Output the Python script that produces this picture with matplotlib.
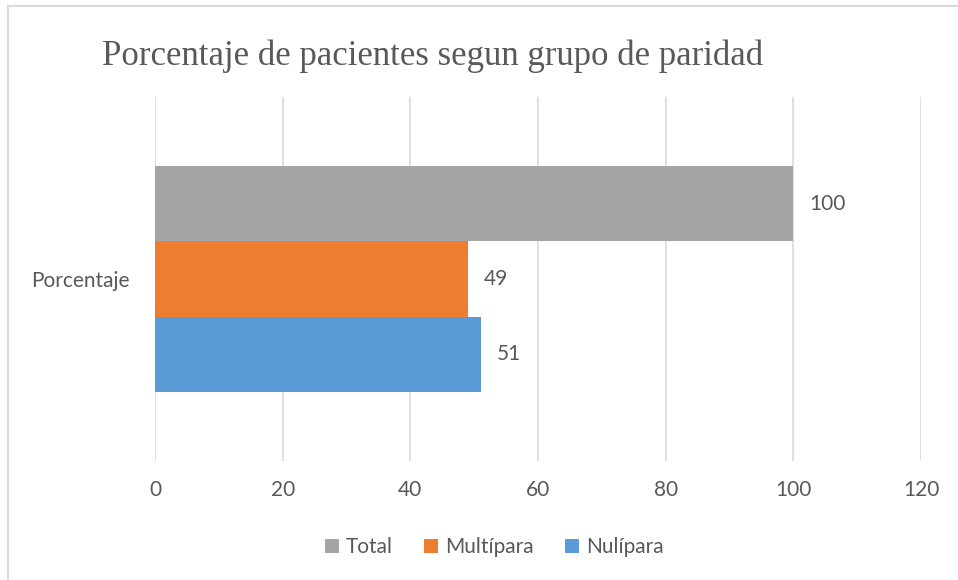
import matplotlib.pyplot as plt
from matplotlib.lines import Line2D

# datos
category = 'Porcentaje'
series = ['Total', 'Multípara', 'Nulípara']
values = [100, 49, 51]
colors = ['#A5A5A5', '#ED7D31', '#5B9BD5']
xticks = [0, 20, 40, 60, 80, 100, 120]

text_color = '#595959'
plt.rcParams['font.family'] = ['Lato', 'DejaVu Sans']

fig = plt.figure(figsize=(9.58, 5.8), dpi=100)
ax = fig.add_axes([0.1618, 0.2052, 0.7996, 0.6276])

# barras: Total arriba, Nulípara abajo
h = 0.207
offsets = [h, 0, -h]
for name, val, col, off in zip(series, values, colors, offsets):
    ax.barh(off, val, height=h, color=col, label=name, zorder=3)
    ax.text(val + 2.5, off, f'{val}', va='center', ha='left',
            fontsize=15, color=text_color)

ax.set_xlim(0, 120)
ax.set_ylim(-0.5, 0.5)
ax.set_xticks(xticks)
ax.tick_params(axis='x', length=0, labelsize=15, labelcolor=text_color, pad=14)
ax.set_yticks([0])
ax.set_yticklabels([category])
ax.tick_params(axis='y', length=0, labelsize=15, labelcolor=text_color, pad=18)
ax.grid(axis='x', color='#D9D9D9', linewidth=1.2, zorder=0)
for s in ax.spines.values():
    s.set_visible(False)

fig.suptitle('Porcentaje de pacientes segun grupo de paridad',
             family='Liberation Serif', fontsize=25, color=text_color,
             x=0.452, y=0.903, va='center')

handles, labels = ax.get_legend_handles_labels()
fig.legend(handles, labels, loc='center', bbox_to_anchor=(0.516, 0.057), ncol=3,
           frameon=False, fontsize=15, labelcolor=text_color,
           handlelength=0.65, handleheight=0.65, handletextpad=0.35,
           columnspacing=1.5)

# borde del gráfico (recortado)
fig.add_artist(Line2D([8 / 958, 8 / 958], [0, 1 - 6 / 580], transform=fig.transFigure,
                      color='#D9D9D9', linewidth=1.5))
fig.add_artist(Line2D([8 / 958, 1], [1 - 6 / 580, 1 - 6 / 580], transform=fig.transFigure,
                      color='#D9D9D9', linewidth=1.5))

fig.savefig('out.png', dpi=100, facecolor='white')
